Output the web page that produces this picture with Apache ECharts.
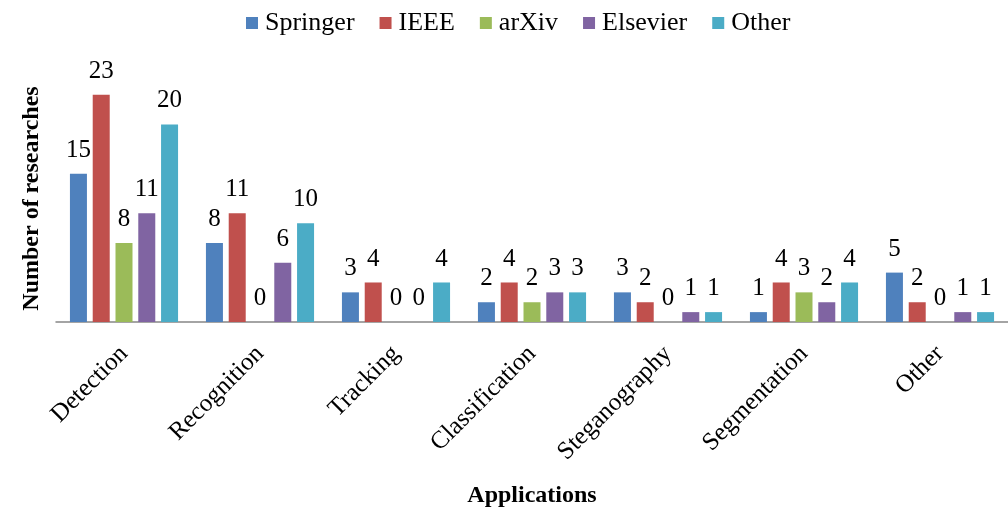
<!DOCTYPE html>
<html>
<head>
<meta charset="utf-8">
<script src="https://cdn.jsdelivr.net/npm/echarts@6/dist/echarts.min.js"></script>
<style>html,body{margin:0;padding:0;background:#fff}#c{width:1008px;height:511px}</style>
</head>
<body>
<div id="c"></div>
<script>
const categories = ['Detection', 'Recognition', 'Tracking', 'Classification', 'Steganography', 'Segmentation', 'Other'];
const springer = [15, 8, 3, 2, 3, 1, 5];
const ieee = [23, 11, 4, 4, 2, 4, 2];
const arxiv = [8, 0, 0, 2, 0, 3, 0];
const elsevier = [11, 6, 0, 3, 1, 2, 1];
const other = [20, 10, 4, 3, 1, 4, 1];
const seriesNames = ['Springer', 'IEEE', 'arXiv', 'Elsevier', 'Other'];
const seriesData = [springer, ieee, arxiv, elsevier, other];
const colors = ['#4F81BD', '#C0504D', '#9BBB59', '#8064A2', '#4BACC6'];

const FF = "'Times New Roman', 'Liberation Serif', serif";
const chart = echarts.init(document.getElementById('c'));
chart.setOption({
  animation: false,
  color: colors,
  legend: {
    left: 241, top: 5,
    icon: 'rect', itemWidth: 12, itemHeight: 12, itemGap: 25,
    textStyle: { fontFamily: FF, fontSize: 26, color: '#000', padding: [0, 0, 0, 2] },
    data: seriesNames
  },
  grid: { left: 56, right: -7, top: 75, bottom: 189, containLabel: false },
  xAxis: {
    type: 'category', data: categories,
    axisLine: { lineStyle: { color: '#878787', width: 1.5 } },
    axisTick: { show: false },
    axisLabel: { rotate: 45, margin: 28, fontFamily: FF, fontSize: 25, color: '#000', interval: 0 },
    name: 'Applications', nameLocation: 'middle', nameGap: 162,
    nameTextStyle: { fontFamily: FF, fontSize: 24, fontWeight: 'bold', color: '#000' }
  },
  yAxis: {
    type: 'value', min: 0, max: 25,
    axisLine: { show: false }, axisTick: { show: false }, axisLabel: { show: false }, splitLine: { show: false },
    name: 'Number of researches', nameLocation: 'middle', nameRotate: 90, nameGap: 12,
    nameTextStyle: { fontFamily: FF, fontSize: 24, fontWeight: 'bold', color: '#000' }
  },
  series: seriesNames.map((n, i) => ({
    name: n, type: 'bar', data: seriesData[i],
    barWidth: 17, barGap: '34%',
    itemStyle: { color: colors[i] },
    label: { show: true, position: 'top', distance: 11, fontFamily: FF, fontSize: 25, color: '#000' }
  }))
});
</script>
</body>
</html>
